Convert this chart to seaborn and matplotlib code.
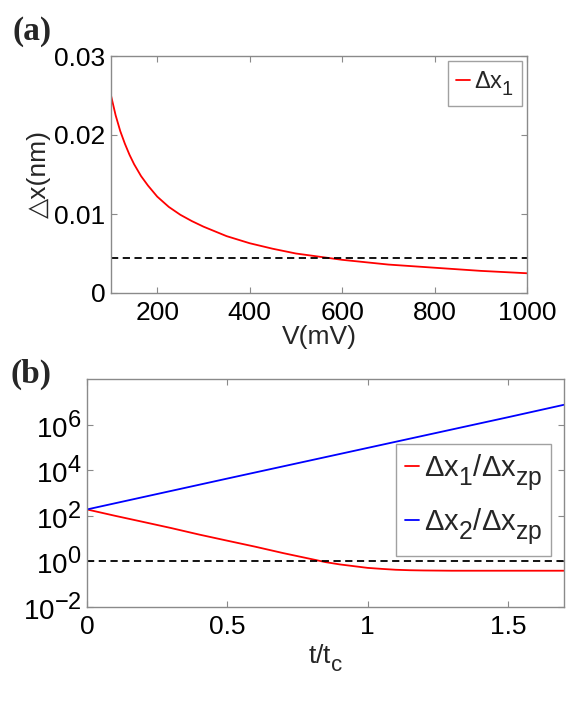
import numpy as np
import pandas as pd
import matplotlib
matplotlib.use("Agg")
import matplotlib.pyplot as plt
import matplotlib._mathtext as mathtext_internals
import seaborn as sns

# panel (a): displacement vs voltage
volt_mv = [100, 110, 120, 130, 140, 150, 165, 180, 200, 225, 250, 275, 300, 350,
           400, 450, 500, 600, 700, 800, 900, 1000]
dx1_nm = [0.0250, 0.0225, 0.0205, 0.0189, 0.0175, 0.0163, 0.0148, 0.0136, 0.0122,
          0.0109, 0.0099, 0.0091, 0.0084, 0.0072, 0.0063, 0.0056, 0.0050, 0.0042,
          0.0036, 0.0032, 0.0028, 0.0025]
dx_zp_nm = 0.0044

# panel (b): normalised widths vs time
t_red = [0, 0.1, 0.2, 0.3, 0.4, 0.5, 0.6, 0.7, 0.8, 0.85, 0.9, 0.95, 1.0, 1.05,
         1.1, 1.15, 1.2, 1.3, 1.5, 1.7]
dx1_ratio = [190, 100, 54, 29, 15, 8.1, 4.4, 2.3, 1.26, 0.93, 0.74, 0.62, 0.52,
             0.47, 0.43, 0.41, 0.40, 0.39, 0.39, 0.39]
t_blue = [0, 0.5, 1.0, 1.5, 1.7]
dx2_ratio = [190, 4300, 95000, 2.1e6, 7.4e6]

sns.set_style("ticks")
plt.rcParams["font.family"] = ["Liberation Sans", "DejaVu Sans"]
plt.rcParams["mathtext.default"] = "regular"
plt.rcParams["mathtext.fontset"] = "custom"
plt.rcParams["mathtext.rm"] = "Liberation Sans"
plt.rcParams["mathtext.it"] = "Liberation Sans"
# MATLAB-style sub/superscripts are bigger and lower than mathtext's default
mathtext_internals.SHRINK_FACTOR = 0.85
mathtext_internals.FontConstantsBase.sub1 = 0.6
mathtext_internals.FontConstantsBase.sub2 = 0.7

spine_col = "#8a8a8a"
fs = 19

fig = plt.figure(figsize=(5.8, 7.2), dpi=100)
ax1 = fig.add_axes([111/580, 1-293/720, 416/580, 237/720])
ax2 = fig.add_axes([87/580, 1-607/720, 477/580, 228/720])


def style_axes(ax):
    for s in ax.spines.values():
        s.set_color(spine_col)
        s.set_linewidth(1.0)
        s.set_visible(True)
    ax.tick_params(which="both", direction="in", top=True, right=True,
                   color=spine_col, labelsize=fs, length=4, width=0.8,
                   labelcolor="black")
    ax.tick_params(axis="x", pad=6)
    ax.tick_params(axis="y", pad=4)
    ax.minorticks_off()


# (a)
df_a = pd.DataFrame({"V": volt_mv, "dx": dx1_nm})
sns.lineplot(data=df_a, x="V", y="dx", ax=ax1, color="red", lw=1.3,
             label=r"Δx$_1$")
ax1.axhline(dx_zp_nm, color="black", ls=(0, (4, 2.5)), lw=1.3)
ax1.set_xlim(100, 1000)
ax1.set_ylim(0, 0.03)
ax1.set_xticks([200, 400, 600, 800, 1000])
ax1.set_yticks([0, 0.01, 0.02, 0.03])
ax1.set_yticklabels(["0", "0.01", "0.02", "0.03"])
ax1.set_xlabel("V(mV)", fontsize=fs, labelpad=0)
ax1.set_ylabel("△x(nm)", fontsize=fs, labelpad=2)
style_axes(ax1)
leg = ax1.legend(loc="upper right", fontsize=17, handlelength=0.6,
                 handletextpad=0.15, borderpad=0.35, frameon=True, fancybox=False,
                 borderaxespad=0.2)
leg.get_frame().set_edgecolor(spine_col)
leg.get_frame().set_linewidth(1.0)

# (b)
df_r = pd.DataFrame({"t": t_red, "r": dx1_ratio})
df_b = pd.DataFrame({"t": t_blue, "r": dx2_ratio})
sns.lineplot(data=df_r, x="t", y="r", ax=ax2, color="red", lw=1.3,
             label=r"Δx$_1$/Δx$_{zp}$")
sns.lineplot(data=df_b, x="t", y="r", ax=ax2, color="blue", lw=1.3,
             label=r"Δx$_2$/Δx$_{zp}$")
ax2.axhline(1.0, color="black", ls=(0, (4, 2.5)), lw=1.3)
ax2.set_yscale("log")
ax2.set_xlim(0, 1.7)
ax2.set_ylim(1e-2, 1e8)
ax2.set_xticks([0, 0.5, 1, 1.5])
ax2.set_xticklabels(["0", "0.5", "1", "1.5"])
ax2.set_yticks([1e-2, 1, 1e2, 1e4, 1e6])
ax2.set_yticklabels([r"10$^{-2}$", r"10$^{0}$", r"10$^{2}$", r"10$^{4}$", r"10$^{6}$"])
ax2.set_xlabel(r"t/t$_c$", fontsize=fs, labelpad=2)
ax2.set_ylabel("")
style_axes(ax2)
ax2.tick_params(axis="y", labelsize=20)
leg2 = ax2.legend(loc="center right", bbox_to_anchor=(0.985, 0.47), fontsize=21,
                  handlelength=0.5, handletextpad=0.15, borderpad=0.3,
                  labelspacing=0.45, frameon=True, fancybox=False,
                  borderaxespad=0.2)
leg2.get_frame().set_edgecolor(spine_col)
leg2.get_frame().set_linewidth(1.0)

fig.text(12/580, 1-40/720, "(a)", fontsize=24, fontweight="bold",
         family="Liberation Serif")
fig.text(10/580, 1-383/720, "(b)", fontsize=24, fontweight="bold",
         family="Liberation Serif")

fig.savefig("out.png", dpi=100)
